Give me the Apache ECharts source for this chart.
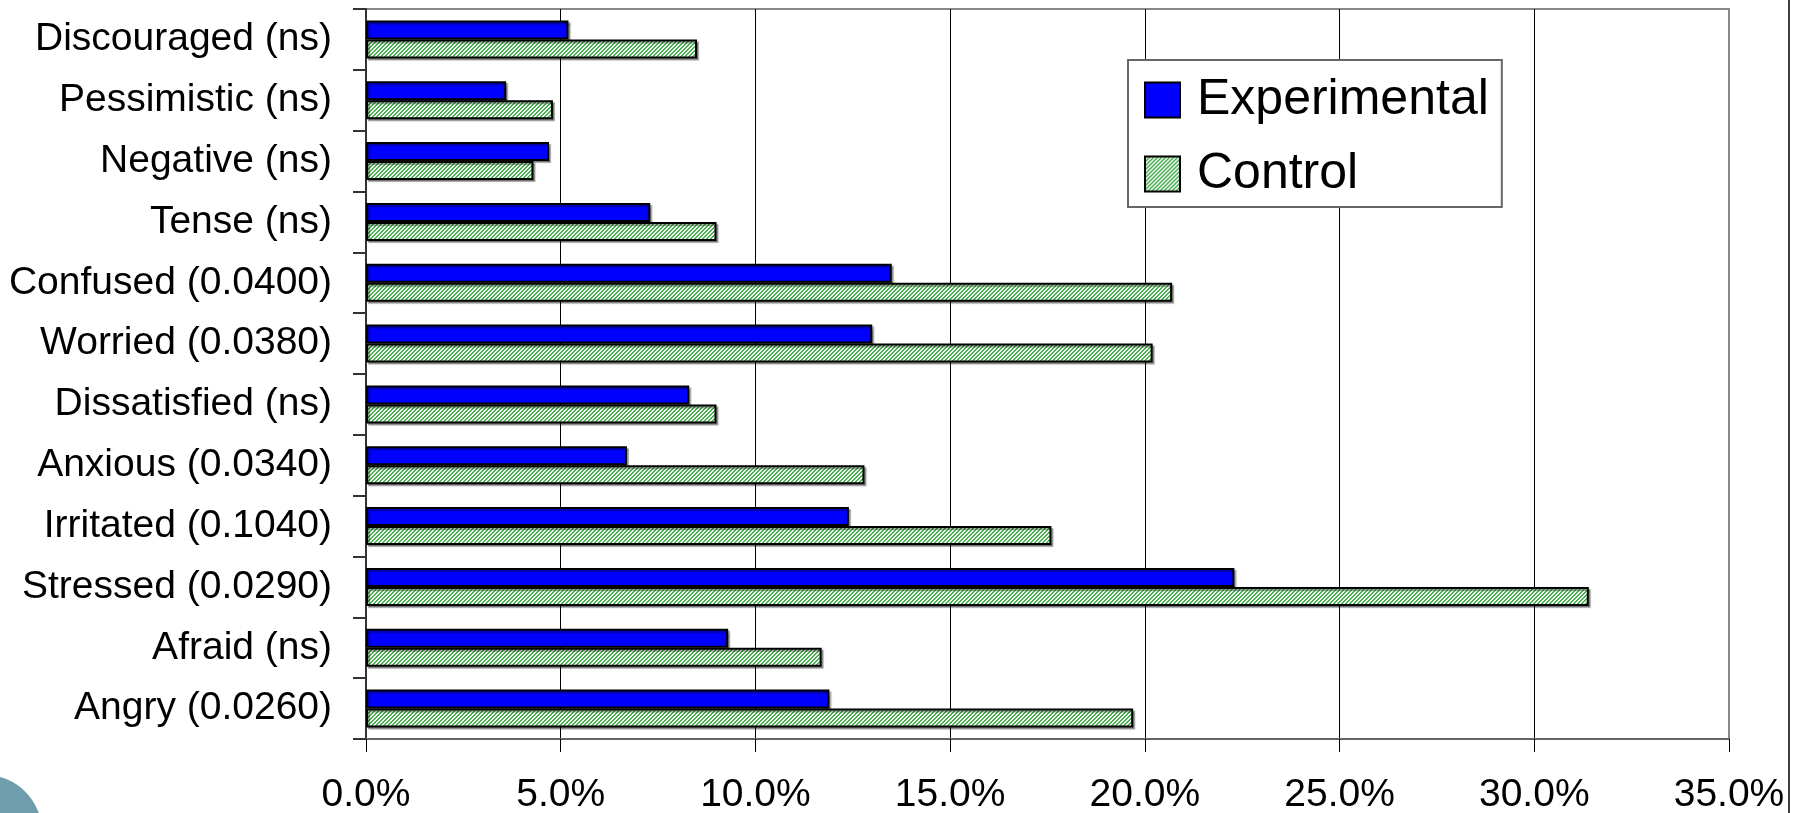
<!DOCTYPE html>
<html>
<head>
<meta charset="utf-8">
<title>Mood ratings: Experimental vs Control</title>
<script src="https://cdn.jsdelivr.net/npm/echarts@6/dist/echarts.min.js"></script>
<style>
  html, body { margin: 0; padding: 0; background: #ffffff; }
  #chart { width: 1799px; height: 813px; }
</style>
</head>
<body>
<div id="chart"></div>
<script>
// Mood categories, listed top to bottom, with p-values in brackets
const categories = [
  'Discouraged (ns)',
  'Pessimistic (ns)',
  'Negative (ns)',
  'Tense (ns)',
  'Confused (0.0400)',
  'Worried (0.0380)',
  'Dissatisfied (ns)',
  'Anxious (0.0340)',
  'Irritated (0.1040)',
  'Stressed (0.0290)',
  'Afraid (ns)',
  'Angry (0.0260)'
];

// Share of respondents reporting each mood, in percent
const experimental = [5.2, 3.6, 4.7, 7.3, 13.5, 13.0, 8.3, 6.7, 12.4, 22.3, 9.3, 11.9];
const control      = [8.5, 4.8, 4.3, 9.0, 20.7, 20.2, 9.0, 12.8, 17.6, 31.4, 11.7, 19.7];

// Value-axis range and step
const axisMin = 0;
const axisMax = 35;
const axisStep = 5;

const FONT = "'Liberation Sans', Arial, sans-serif";

// Fine diagonal hatch used to fill the Control bars
function makeHatch() {
  const c = document.createElement('canvas');
  c.width = 4; c.height = 4;
  const ctx = c.getContext('2d');
  for (let y = 0; y < 4; y++) {
    for (let x = 0; x < 4; x++) {
      ctx.fillStyle = ((x + y) % 4 < 2) ? '#4fae55' : '#eef8ee';
      ctx.fillRect(x, y, 1, 1);
    }
  }
  return { image: c, repeat: 'repeat' };
}

const chart = echarts.init(document.getElementById('chart'), null, { renderer: 'canvas' });

const barShadow = {
  borderColor: '#000000',
  borderWidth: 2,
  shadowColor: 'rgba(0,0,0,0.35)',
  shadowBlur: 1,
  shadowOffsetX: 2,
  shadowOffsetY: 2
};

chart.setOption({
  backgroundColor: '#ffffff',
  animation: false,
  textStyle: { fontFamily: FONT },
  grid: {
    left: 366, top: 9, right: 70, bottom: 74,
    containLabel: false,
    outerBoundsMode: 'none',
    show: true, borderColor: '#888888', borderWidth: 2,
    backgroundColor: 'transparent'
  },
  legend: {
    orient: 'vertical',
    left: 1128, top: 60,
    padding: [15, 13, 8, 16],
    itemGap: 24,
    itemWidth: 35, itemHeight: 35,
    backgroundColor: '#ffffff',
    borderColor: '#666666', borderWidth: 2,
    icon: 'rect',
    data: ['Experimental', 'Control'],
    textStyle: {
      fontFamily: FONT, fontSize: 50, lineHeight: 50, color: '#000000',
      padding: [0, 0, 0, 12]
    },
    itemStyle: { shadowColor: 'transparent', shadowBlur: 0, shadowOffsetX: 0, shadowOffsetY: 0, borderWidth: 2 }
  },
  xAxis: {
    type: 'value',
    min: axisMin, max: axisMax, interval: axisStep,
    axisLine: { show: true, lineStyle: { color: '#666666', width: 2 } },
    axisTick: { show: true, length: 13, lineStyle: { color: '#000000', width: 1 } },
    axisLabel: {
      margin: 37,
      fontFamily: FONT, fontSize: 39, color: '#000000',
      formatter: v => v.toFixed(1) + '%'
    },
    splitLine: {
      show: true,
      lineStyle: { color: ['#555555', '#000000', '#000000', '#000000', '#000000', '#000000', '#000000', '#888888'], width: 1 }
    }
  },
  yAxis: {
    type: 'category',
    data: categories,
    inverse: true,
    axisLine: { show: true, lineStyle: { color: '#333333', width: 2 } },
    axisTick: { show: true, length: 13, lineStyle: { color: '#333333', width: 2 } },
    axisLabel: {
      margin: 34,
      fontFamily: FONT, fontSize: 39, color: '#000000'
    },
    splitLine: { show: false }
  },
  series: [
    {
      name: 'Experimental',
      type: 'bar',
      data: experimental,
      barWidth: 19,
      barGap: '0%',
      itemStyle: Object.assign({ color: '#0000ff' }, barShadow)
    },
    {
      name: 'Control',
      type: 'bar',
      data: control,
      barWidth: 19,
      barGap: '0%',
      itemStyle: Object.assign({ color: makeHatch() }, barShadow)
    }
  ],
  graphic: [
    {
      // slide border on the right
      type: 'line',
      shape: { x1: 1789, y1: 0, x2: 1789, y2: 813 },
      style: { stroke: '#000000', lineWidth: 1.5 },
      silent: true
    },
    {
      // slide ornament in the lower-left corner
      type: 'circle',
      shape: { cx: -15, cy: 832, r: 57 },
      style: { fill: '#6e9dab' },
      silent: true
    }
  ]
});
</script>
</body>
</html>
